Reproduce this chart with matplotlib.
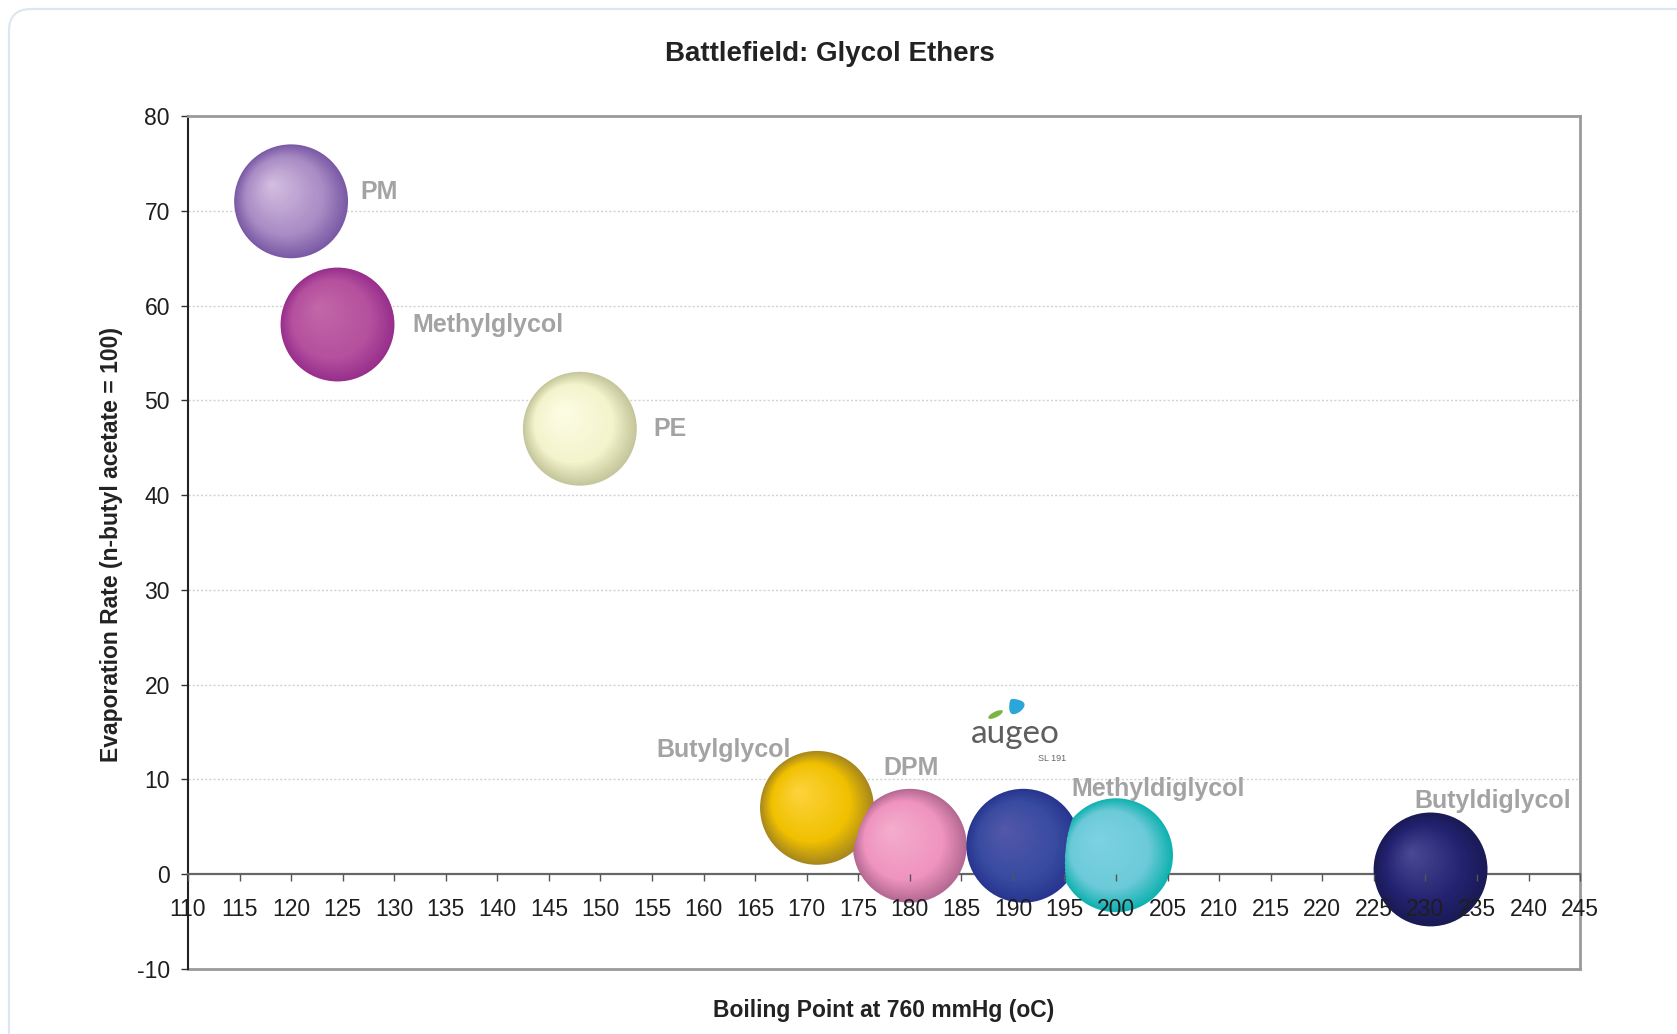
import numpy as np
import matplotlib.pyplot as plt
from matplotlib.transforms import offset_copy
from matplotlib.colors import to_rgb
from matplotlib.patches import FancyBboxPatch

plt.rcParams['font.family'] = ['Liberation Sans', 'DejaVu Sans']
plt.rcParams['axes.unicode_minus'] = False

# data
names = ["PM", "Methylglycol", "PE", "Butylglycol", "DPM", "Augeo SL 191",
         "Methyldiglycol", "Butyldiglycol"]
boiling = [120, 124.5, 148, 171, 180, 191, 200, 230.5]
evap = [71, 58, 47, 7, 3, 3, 2, 0.5]

x_ticks = list(range(110, 246, 5))
y_ticks = list(range(-10, 81, 10))

# sphere colours: outer edge, body, highlight
edge_cols = ["#7a5aa5", "#982f8c", "#c6c69c", "#a8881c", "#b46a92", "#283590", "#10b2b0", "#1a1a55"]
mid_cols = ["#a88bc4", "#b4509e", "#f3f3cc", "#f0c000", "#ef93bf", "#384ba0", "#6ccad8", "#222270"]
hl_cols = ["#d5c0e2", "#c368a8", "#fdfde6", "#fdd43e", "#f4aecd", "#5458aa", "#7cd2e2", "#4a4a95"]

# label offsets (points) from bubble centre, and alignment
label_off = [(50, 7, 'left'), (54, 0, 'left'), (53, 0, 'left'), (-67, 42, 'center'),
             (1, 56, 'center'), None, (30, 48, 'center'), (45, 49, 'center')]

fig = plt.figure(figsize=(16.77, 10.34), dpi=100)
ax = fig.add_axes([0.1121, 0.0629, 0.8301, 0.8249])

# rounded frame around the whole chart
fig.patches.append(FancyBboxPatch((9, -60), 1800, 1085, boxstyle="round,pad=0,rounding_size=22",
                                  transform=None, fill=False, ec="#dde7ef", lw=1.6))

ax.set_xlim(110, 245)
ax.set_ylim(-10, 80)
ax.set_xticks(x_ticks)
ax.set_yticks(y_ticks)

for v in y_ticks[2:-1]:
    ax.axhline(v, color='#d2d2d2', lw=1, ls=(0, (1.5, 1.5)), zorder=0.5)

# bubbles as stacked discs for a sphere look
r = 41.0  # points
hx, hy = -0.35 * r, 0.3 * r
N = 40
for i in range(N):
    t = i / N
    cols = []
    for e, m, h in zip(edge_cols, mid_cols, hl_cols):
        e, m, h = np.array(to_rgb(e)), np.array(to_rgb(m)), np.array(to_rgb(h))
        if t < 0.3:
            c = e + (m - e) * (t / 0.3)
        else:
            c = m + (h - m) * ((t - 0.3) / 0.7)
        cols.append(np.clip(c, 0, 1))
    rad = r * (1 - t)
    tr = offset_copy(ax.transData, fig=fig, x=hx * t, y=hy * t, units='points')
    ax.scatter(boiling, evap, s=(2 * rad) ** 2, c=cols, linewidths=0,
               transform=tr, zorder=3, clip_on=False)

for name, bx, by, lo in zip(names, boiling, evap, label_off):
    if lo is None:
        continue
    ax.annotate(name, (bx, by), xytext=(lo[0], lo[1]), textcoords='offset points',
                ha=lo[2], va='center', fontsize=18, fontweight='bold', color='#a3a3a3', zorder=6)

# augeo logo above its bubble
ai = names.index("Augeo SL 191")
ax.annotate("augeo", (boiling[ai], evap[ai]), xytext=(-6, 74), textcoords='offset points',
            ha='center', va='baseline', fontsize=24, color='#5e5e5e',
            family=['Lato', 'DejaVu Sans'], zorder=6)
ax.annotate("SL 191", (boiling[ai], evap[ai]), xytext=(21, 63), textcoords='offset points',
            ha='center', va='center', fontsize=6.5, color='#666666', zorder=6)
drop_tr = offset_copy(ax.transData, fig=fig, x=-6, y=101, units='points')
th = np.linspace(0, 2 * np.pi, 40)
drop = np.c_[np.cos(th) * (1 - 0.5 * np.sin(th)), np.sin(th)] @ np.array([[0.8, 0.6], [-0.6, 0.8]])
ax.scatter([boiling[ai]], [evap[ai]], s=170, marker=drop, c='#2aa6d8', linewidths=0,
           transform=drop_tr, zorder=6, clip_on=False)
leaf_tr = offset_copy(ax.transData, fig=fig, x=-20, y=95, units='points')
leaf = np.c_[np.cos(th), 0.35 * np.sin(th)] @ np.array([[0.9, 0.45], [-0.45, 0.9]])
ax.scatter([boiling[ai]], [evap[ai]], s=110, marker=leaf, c='#7cb342', linewidths=0,
           transform=leaf_tr, zorder=6, clip_on=False)

# axes styling
ax.spines['bottom'].set_position(('data', 0))
ax.spines['bottom'].set_color('#666666')
ax.spines['bottom'].set_linewidth(1.6)
ax.spines['left'].set_color('#222222')
ax.spines['left'].set_linewidth(1.5)
for s in ['top', 'right']:
    ax.spines[s].set_color('#9a9a9a')
    ax.spines[s].set_linewidth(2)
ax.plot([110, 245], [-10, -10], color='#9a9a9a', lw=2, zorder=2.5, clip_on=False)

ax.tick_params(axis='x', direction='out', length=5, width=1, color='#555555',
               labelsize=16.5, pad=12, labelcolor='#1e1e1e')
ax.tick_params(axis='y', direction='out', length=5, width=1, color='#333333',
               labelsize=16.5, pad=8, labelcolor='#1e1e1e')
ax.xaxis.set_zorder(4)

fig.text(830 / 1677, 1 - 54 / 1034, "Battlefield: Glycol Ethers", ha='center', va='center',
         fontsize=20, fontweight='bold', color='#222222')
fig.text(884 / 1677, 1 - 1010 / 1034, "Boiling Point at 760 mmHg (oC)", ha='center', va='center',
         fontsize=16.5, fontweight='bold', color='#222222')
fig.text(112 / 1677, 1 - 544 / 1034, "Evaporation Rate (n-butyl acetate = 100)", ha='center',
         va='center', rotation=90, fontsize=16.5, fontweight='bold', color='#222222')

fig.savefig("out.png", dpi=100)
